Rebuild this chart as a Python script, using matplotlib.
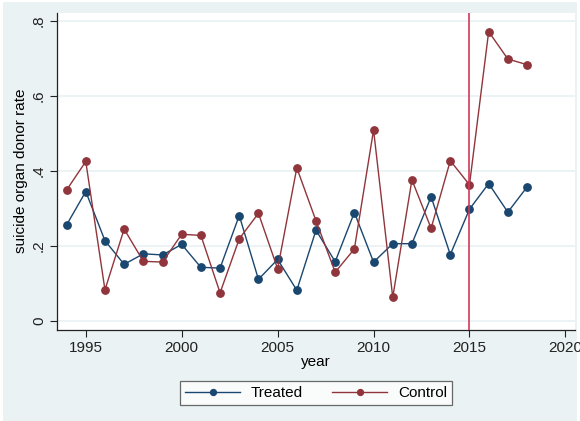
import matplotlib.pyplot as plt
from matplotlib.patches import Rectangle

plt.rcParams["font.family"] = ["Liberation Sans", "DejaVu Sans"]

years = list(range(1994, 2019))
treated = [0.256, 0.345, 0.214, 0.151, 0.179, 0.176, 0.204, 0.143, 0.141,
           0.281, 0.111, 0.164, 0.082, 0.242, 0.158, 0.289, 0.157, 0.206,
           0.206, 0.331, 0.177, 0.298, 0.366, 0.290, 0.357]
control = [0.349, 0.425, 0.083, 0.245, 0.159, 0.157, 0.231, 0.228, 0.075,
           0.219, 0.287, 0.139, 0.408, 0.267, 0.130, 0.192, 0.509, 0.063,
           0.376, 0.247, 0.427, 0.363, 0.771, 0.698, 0.683]
policy_year = 2015
xticks = [1995, 2000, 2005, 2010, 2015, 2020]
yticks = [0, 0.2, 0.4, 0.6, 0.8]
ytick_labels = ["0", ".2", ".4", ".6", ".8"]

navy = "#1a476f"
maroon = "#90353b"
bg = "#eaf2f3"

fig = plt.figure(figsize=(5.8, 4.21), dpi=100, facecolor="white")
fig.patches.append(Rectangle((3 / 580, 0), 574 / 580, 1 - 2 / 421,
                             transform=fig.transFigure, facecolor=bg,
                             edgecolor="none", zorder=-10))
ax = fig.add_axes([57 / 580, 1 - 330 / 421, 518 / 580, 317.5 / 421])
ax.set_facecolor("white")

ax.plot(years, treated, color=navy, lw=1.0, marker="o", ms=5.3,
        label="Treated", zorder=3)
ax.plot(years, control, color=maroon, lw=1.0, marker="o", ms=5.3,
        label="Control", zorder=3)
ax.axvline(policy_year, color="#d2385a", lw=1.2, zorder=4)

ax.set_xlim(1993.5, 2020.5)
ax.set_ylim(-0.024, 0.822)
ax.set_xticks(xticks)
ax.set_yticks(yticks)
ax.set_yticklabels(ytick_labels, rotation=90, va="center")
ax.tick_params(labelsize=11, colors="#222222", length=5, width=0.8, pad=3)
ax.grid(axis="y", color=bg, lw=1.3)
ax.set_axisbelow(True)
for side in ["top", "right"]:
    ax.spines[side].set_visible(False)
for side in ["left", "bottom"]:
    ax.spines[side].set_color("#222222")
    ax.spines[side].set_linewidth(0.9)

ax.set_xlabel("year", fontsize=11, labelpad=0)
ax.set_ylabel("suicide organ donor rate", fontsize=11, labelpad=3)

leg = fig.legend(loc="center", bbox_to_anchor=(316 / 580, 1 - 393 / 421),
                 ncol=2, frameon=True, fancybox=False, fontsize=11,
                 handlelength=3.6, columnspacing=1.9, markerscale=0.8,
                 borderpad=0.35, handletextpad=0.7)
leg.get_frame().set_edgecolor("#444444")
leg.get_frame().set_linewidth(0.9)

fig.savefig("out.png", dpi=100, facecolor=fig.get_facecolor())
